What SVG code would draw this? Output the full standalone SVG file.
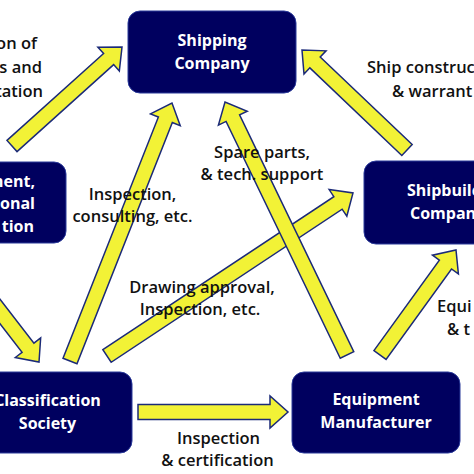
<svg xmlns="http://www.w3.org/2000/svg" width="474" height="474" viewBox="0 0 474 474">
<style>
.node rect{fill:#00005f;stroke:#2a3a9a;stroke-width:1}
.nt{font-family:"Open Sans","Liberation Sans",sans-serif;font-weight:bold;font-size:16px;fill:#ffffff}
.arr path{fill:#f2f236;stroke:#1b2a78;stroke-width:1.5;stroke-linejoin:miter}
.lb{font-family:"Open Sans","Liberation Sans",sans-serif;font-weight:600;font-size:16.5px;fill:#111111}
</style>
<rect width="474" height="474" fill="#ffffff"/>
<g id="connectors" class="arr">
<path d="M0,-7.5 H130 V-16 L148,0 L130,16 V7.5 H0 Z" transform="translate(12,146) rotate(-41.99)"/>
<path d="M0,-7.5 H259.4 V-16 L277.4,0 L259.4,16 V7.5 H0 Z" transform="translate(70,361) rotate(-68.43)"/>
<path d="M0,-7.5 H277.1 V-16 L295.1,0 L277.1,16 V7.5 H0 Z" transform="translate(107,356) rotate(-33.53)"/>
<path d="M0,-7.5 H262.9 V-16 L280.9,0 L262.9,16 V7.5 H0 Z" transform="translate(347,355) rotate(-115.74)"/>
<path d="M0,-7.5 H127 V-16 L145,0 L127,16 V7.5 H0 Z" transform="translate(407,150) rotate(-136.4)"/>
<path d="M0,-7.5 H111.6 V-16 L129.6,0 L111.6,16 V7.5 H0 Z" transform="translate(380,355) rotate(-54.1)"/>
<path d="M0,-7.5 H65.4 V-16 L83.4,0 L65.4,16 V7.5 H0 Z" transform="translate(-12,296) rotate(52.3)"/>
<path d="M0,-7.5 H132 V-16 L150,0 L132,16 V7.5 H0 Z" transform="translate(138,412)"/>
</g>
<g id="shipping" class="node">
<rect x="128" y="11" width="168" height="82" rx="12"/>
<text class="nt" x="212" y="46" text-anchor="middle">Shipping</text>
<text class="nt" x="212" y="69" text-anchor="middle">Company</text>
</g>
<g id="shipbuilding" class="node">
<rect x="364" y="161" width="180" height="83" rx="12"/>
<text class="nt" x="407" y="196">Shipbuildi</text>
<text class="nt" x="410" y="219">Compan</text>
</g>
<g id="government" class="node">
<rect x="-110" y="162" width="176" height="81" rx="12"/>
<text class="nt" x="35" y="187" text-anchor="end">ment,</text>
<text class="nt" x="35" y="209" text-anchor="end">onal</text>
<text class="nt" x="34" y="232" text-anchor="end">tion</text>
</g>
<g id="classification" class="node">
<rect x="-37" y="372" width="169" height="81" rx="12"/>
<text class="nt" x="47.5" y="406" text-anchor="middle">Classification</text>
<text class="nt" x="47.5" y="429" text-anchor="middle">Society</text>
</g>
<g id="equipment" class="node">
<rect x="292" y="372" width="168" height="81" rx="12"/>
<text class="nt" x="376" y="405" text-anchor="middle">Equipment</text>
<text class="nt" x="376" y="428" text-anchor="middle">Manufacturer</text>
</g>
<g id="labels">
<text class="lb" x="37" y="49" text-anchor="end">on of</text>
<text class="lb" x="42" y="73" text-anchor="end">s and</text>
<text class="lb" x="43" y="97" text-anchor="end">tation</text>
<text class="lb" x="367" y="73">Ship construc</text>
<text class="lb" x="392" y="97">&amp; warrant</text>
<text class="lb" x="132.5" y="200" text-anchor="middle">Inspection,</text>
<text class="lb" x="132.5" y="222" text-anchor="middle">consulting, etc.</text>
<text class="lb" x="262" y="158" text-anchor="middle">Spare parts,</text>
<text class="lb" x="262" y="180" text-anchor="middle">&amp; tech. support</text>
<text class="lb" x="202" y="293" text-anchor="middle">Drawing approval,</text>
<text class="lb" x="200" y="315" text-anchor="middle">Inspection, etc.</text>
<text class="lb" x="218.5" y="444" text-anchor="middle">Inspection</text>
<text class="lb" x="217.5" y="466" text-anchor="middle">&amp; certification</text>
<text class="lb" x="437" y="312">Equi</text>
<text class="lb" x="447" y="335">&amp; t</text>
</g>
</svg>
